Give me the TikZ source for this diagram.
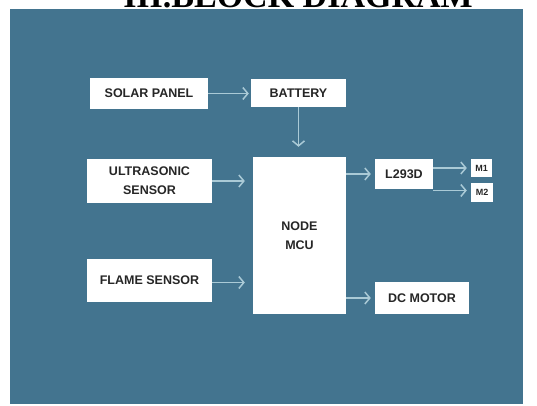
\documentclass[tikz,border=0pt]{standalone}
\usepackage{fontspec}
\setmainfont{Liberation Sans}
\newfontfamily\titlefont{Liberation Serif}
\usetikzlibrary{arrows.meta}
\definecolor{bg}{RGB}{67,116,143}
\definecolor{arr}{RGB}{170,202,214}
\begin{document}
\begin{tikzpicture}[x=1pt,y=-1pt,
  blk/.style={fill=white, draw=none, inner sep=0pt, align=center, text=black!85,
    font=\bfseries\fontsize{12.5}{19}\selectfont},
  small/.style={blk, font=\bfseries\fontsize{9}{10}\selectfont},
  con/.style={draw=arr, line width=1.5pt, -{Straight Barb[length=5pt,width=12pt,line width=1.5pt]}}]
\useasboundingbox (0,0) rectangle (537,405);
\clip (0,0) rectangle (537,405);
\fill[white] (0,0) rectangle (537,405);
\fill[bg] (10,9) rectangle (523,404);
\node[anchor=base, inner sep=0pt, font=\titlefont\bfseries\fontsize{34}{36}\selectfont] (title) at (298,7) {III.BLOCK DIAGRAM};
% blocks
\node[blk, minimum width=118pt, minimum height=31pt] (solar) at (149,93.5) {SOLAR PANEL};
\node[blk, minimum width=95pt, minimum height=28pt] (battery) at (298.5,93) {BATTERY};
\node[blk, minimum width=125pt, minimum height=44pt] (ultra) at (149.5,181) {ULTRASONIC\\SENSOR};
\node[blk, minimum width=93pt, minimum height=157pt] (mcu) at (299.5,235.5) {NODE\\MCU};
\node[blk, minimum width=125pt, minimum height=43pt] (flame) at (149.5,280.5) {FLAME SENSOR};
\node[blk, minimum width=58pt, minimum height=30pt] (l293d) at (404,174) {L293D};
\node[small, minimum width=21pt, minimum height=18pt] (m1) at (481.5,168) {M1};
\node[small, minimum width=22pt, minimum height=19pt] (m2) at (482,192.5) {M2};
\node[blk, minimum width=94pt, minimum height=32pt] (dc) at (422,298) {DC MOTOR};
% connectors
\draw[con] (solar.east) -- ([xshift=-2pt]solar.east -| battery.west);
\draw[con] (battery.south) -- ([yshift=10pt]battery.south |- mcu.north);
\draw[con] (ultra.east) -- ([xshift=-8pt]ultra.east -| mcu.west);
\draw[con] ([yshift=-2pt]flame.east) -- ([xshift=-8pt,yshift=-2pt]flame.east -| mcu.west);
\draw[con] (mcu.east |- l293d.west) -- ([xshift=-4pt]l293d.west);
\draw[con] (mcu.east |- dc.west) -- ([xshift=-4pt]dc.west);
\draw[con] (l293d.east |- m1.west) -- ([xshift=-4pt]m1.west);
\draw[con] ([yshift=2pt]l293d.east |- m2.west) -- ([xshift=-4pt,yshift=2pt]m2.west);
\end{tikzpicture}
\end{document}
